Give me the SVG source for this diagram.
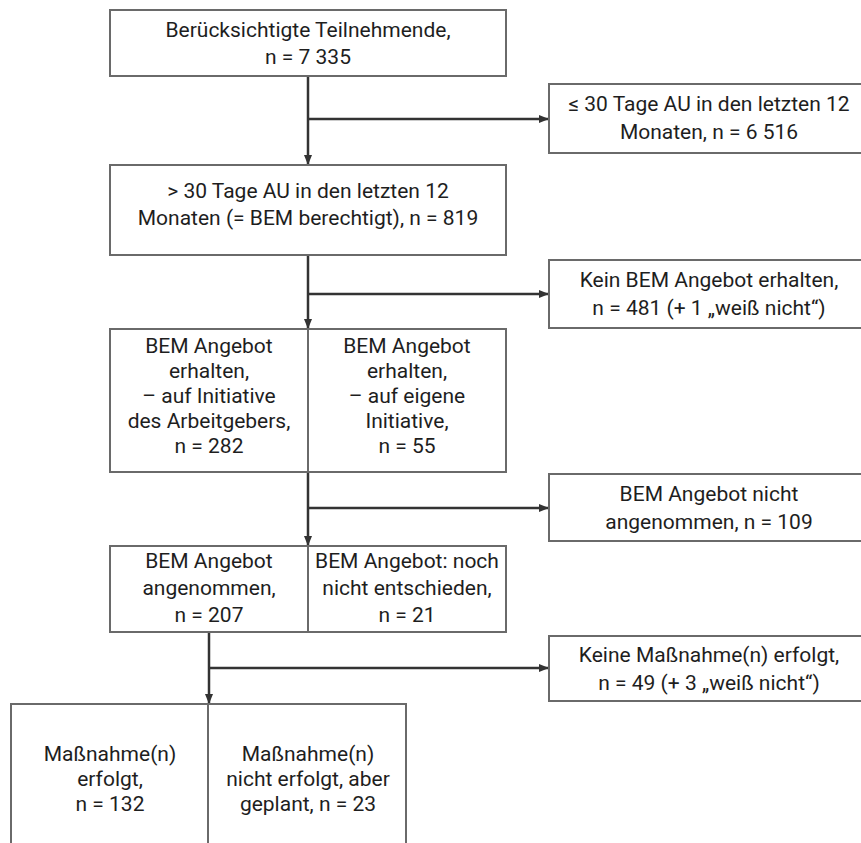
<svg xmlns="http://www.w3.org/2000/svg" width="861" height="843" viewBox="0 0 861 843">
<defs>
<style>
.box{fill:#fff;stroke:#6a6a6a;stroke-width:2}
.div{stroke:#6a6a6a;stroke-width:2}
.t{font-family:Roboto,"Liberation Sans",sans-serif;font-size:21px;fill:#1e1e1e;text-anchor:middle}
.c{fill:none;stroke:#333;stroke-width:2.5}
</style>
<marker id="ah" viewBox="0 0 10 10" refX="10" refY="5" markerWidth="10" markerHeight="10" markerUnits="userSpaceOnUse" orient="auto">
<path d="M0,1 L10,5 L0,9 Z" fill="#333"/>
</marker>
</defs>
<rect width="861" height="843" fill="#fff"/>
<g id="connectors">
<line class="c" x1="308" y1="76" x2="308" y2="165" marker-end="url(#ah)"/>
<line class="c" x1="308" y1="119" x2="549" y2="119" marker-end="url(#ah)"/>
<line class="c" x1="308" y1="255" x2="308" y2="329" marker-end="url(#ah)"/>
<line class="c" x1="308" y1="294" x2="549" y2="294" marker-end="url(#ah)"/>
<line class="c" x1="308" y1="472" x2="308" y2="546" marker-end="url(#ah)"/>
<line class="c" x1="308" y1="508" x2="549" y2="508" marker-end="url(#ah)"/>
<line class="c" x1="209" y1="632" x2="209" y2="704" marker-end="url(#ah)"/>
<line class="c" x1="209" y1="668" x2="549" y2="668" marker-end="url(#ah)"/>
</g>
<g id="n1">
<rect class="box" x="110" y="10" width="396" height="66"/>
<text class="t" x="308" y="37">Berücksichtigte Teilnehmende,</text>
<text class="t" x="308" y="64">n = 7 335</text>
</g>
<g id="n2">
<rect class="box" x="549" y="84" width="330" height="69"/>
<text class="t" x="709" y="111">≤ 30 Tage AU in den letzten 12</text>
<text class="t" x="709" y="139">Monaten, n = 6 516</text>
</g>
<g id="n3">
<rect class="box" x="110" y="165" width="396" height="90"/>
<text class="t" x="308" y="198">&gt; 30 Tage AU in den letzten 12</text>
<text class="t" x="308" y="225">Monaten (= BEM berechtigt), n = 819</text>
</g>
<g id="n4">
<rect class="box" x="549" y="260" width="330" height="68"/>
<text class="t" x="709" y="287">Kein BEM Angebot erhalten,</text>
<text class="t" x="709" y="315">n = 481 (+ 1 „weiß nicht“)</text>
</g>
<g id="n5">
<rect class="box" x="110" y="329" width="396" height="143"/>
<line class="div" x1="308" y1="329" x2="308" y2="472"/>
<text class="t" x="209" y="353">BEM Angebot</text>
<text class="t" x="209" y="378">erhalten,</text>
<text class="t" x="209" y="403">– auf Initiative</text>
<text class="t" x="209" y="428">des Arbeitgebers,</text>
<text class="t" x="209" y="453">n = 282</text>
<text class="t" x="407" y="353">BEM Angebot</text>
<text class="t" x="407" y="378">erhalten,</text>
<text class="t" x="407" y="403">– auf eigene</text>
<text class="t" x="407" y="428">Initiative,</text>
<text class="t" x="407" y="453">n = 55</text>
</g>
<g id="n6">
<rect class="box" x="549" y="474" width="330" height="67"/>
<text class="t" x="709" y="501">BEM Angebot nicht</text>
<text class="t" x="709" y="529">angenommen, n = 109</text>
</g>
<g id="n7">
<rect class="box" x="110" y="546" width="396" height="86"/>
<line class="div" x1="308" y1="546" x2="308" y2="632"/>
<text class="t" x="209" y="568">BEM Angebot</text>
<text class="t" x="209" y="595">angenommen,</text>
<text class="t" x="209" y="622">n = 207</text>
<text class="t" x="407" y="568">BEM Angebot: noch</text>
<text class="t" x="407" y="595">nicht entschieden,</text>
<text class="t" x="407" y="622">n = 21</text>
</g>
<g id="n9">
<rect class="box" x="549" y="636" width="330" height="65"/>
<text class="t" x="709" y="662">Keine Maßnahme(n) erfolgt,</text>
<text class="t" x="709" y="690">n = 49 (+ 3 „weiß nicht“)</text>
</g>
<g id="n8">
<rect class="box" x="11" y="704" width="395" height="160"/>
<line class="div" x1="208" y1="704" x2="208" y2="864"/>
<text class="t" x="110" y="761">Maßnahme(n)</text>
<text class="t" x="110" y="786">erfolgt,</text>
<text class="t" x="110" y="811">n = 132</text>
<text class="t" x="308" y="761">Maßnahme(n)</text>
<text class="t" x="308" y="786">nicht erfolgt, aber</text>
<text class="t" x="308" y="811">geplant, n = 23</text>
</g>
</svg>
